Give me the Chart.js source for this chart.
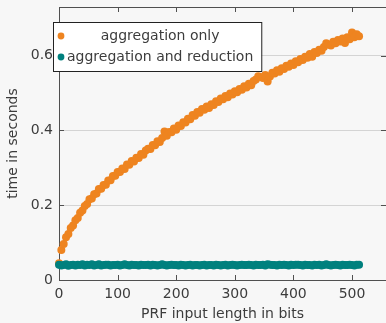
<!DOCTYPE html>
<html>
<head>
<meta charset="utf-8">
<script src="https://cdn.jsdelivr.net/npm/chart.js@4/dist/chart.umd.min.js"></script>
<style>
  html, body { margin: 0; padding: 0; background: #f7f7f7; overflow: hidden; }
  #wrap { width: 386px; height: 323px; }
</style>
</head>
<body>
<div id="wrap"><canvas id="chart"></canvas></div>
<script>
const bits = [0, 4, 8, 12, 16, 20, 24, 28, 32, 36, 40, 44, 48, 52, 56, 60, 64, 68, 72, 76,
  80, 84, 88, 92, 96, 100, 104, 108, 112, 116, 120, 124, 128, 132, 136, 140, 144, 148, 152, 156,
  160, 164, 168, 172, 176, 180, 184, 188, 192, 196, 200, 204, 208, 212, 216, 220, 224, 228, 232, 236,
  240, 244, 248, 252, 256, 260, 264, 268, 272, 276, 280, 284, 288, 292, 296, 300, 304, 308, 312, 316,
  320, 324, 328, 332, 336, 340, 344, 348, 352, 356, 360, 364, 368, 372, 376, 380, 384, 388, 392, 396,
  400, 404, 408, 412, 416, 420, 424, 428, 432, 436, 440, 444, 448, 452, 456, 460, 464, 468, 472, 476,
  480, 484, 488, 492, 496, 500, 504, 508, 512]

const aggregationOnly = [0.045, 0.080, 0.096, 0.114, 0.123, 0.139, 0.146, 0.160, 0.166, 0.180,
  0.186, 0.198, 0.203, 0.216, 0.218, 0.229, 0.231, 0.243, 0.244, 0.254,
  0.255, 0.266, 0.267, 0.278, 0.279, 0.289, 0.289, 0.298, 0.297, 0.309,
  0.308, 0.318, 0.317, 0.327, 0.326, 0.337, 0.335, 0.346, 0.351, 0.350,
  0.361, 0.360, 0.371, 0.369, 0.380, 0.397, 0.386, 0.396, 0.395, 0.405,
  0.402, 0.413, 0.412, 0.422, 0.421, 0.431, 0.430, 0.441, 0.439, 0.449,
  0.447, 0.457, 0.455, 0.464, 0.460, 0.470, 0.468, 0.478, 0.476, 0.485,
  0.483, 0.492, 0.489, 0.499, 0.496, 0.505, 0.502, 0.511, 0.509, 0.518,
  0.515, 0.525, 0.521, 0.532, 0.536, 0.545, 0.543, 0.540, 0.548, 0.531,
  0.544, 0.554, 0.552, 0.561, 0.557, 0.566, 0.564, 0.573, 0.570, 0.579,
  0.575, 0.585, 0.582, 0.591, 0.588, 0.597, 0.594, 0.604, 0.597, 0.610,
  0.607, 0.616, 0.613, 0.623, 0.633, 0.630, 0.627, 0.637, 0.633, 0.642,
  0.638, 0.646, 0.634, 0.649, 0.644, 0.662, 0.649, 0.657, 0.652]

const aggregationReduction = [0.041, 0.039, 0.040, 0.042, 0.038, 0.040, 0.041, 0.039, 0.041, 0.040,
  0.042, 0.039, 0.041, 0.040, 0.042, 0.039, 0.040, 0.042, 0.039, 0.040,
  0.041, 0.041, 0.039, 0.040, 0.040, 0.041, 0.039, 0.040, 0.042, 0.040,
  0.039, 0.041, 0.040, 0.040, 0.039, 0.041, 0.040, 0.040, 0.041, 0.039,
  0.041, 0.040, 0.039, 0.040, 0.042, 0.040, 0.039, 0.040, 0.041, 0.040,
  0.040, 0.039, 0.041, 0.040, 0.039, 0.040, 0.041, 0.039, 0.040, 0.040,
  0.039, 0.040, 0.041, 0.039, 0.040, 0.040, 0.039, 0.041, 0.040, 0.039,
  0.040, 0.041, 0.039, 0.040, 0.041, 0.040, 0.039, 0.040, 0.041, 0.040,
  0.040, 0.041, 0.040, 0.039, 0.041, 0.040, 0.040, 0.041, 0.039, 0.042,
  0.041, 0.040, 0.040, 0.039, 0.041, 0.040, 0.041, 0.040, 0.039, 0.041,
  0.040, 0.041, 0.041, 0.040, 0.039, 0.041, 0.040, 0.040, 0.039, 0.041,
  0.040, 0.041, 0.039, 0.040, 0.042, 0.040, 0.039, 0.040, 0.041, 0.040,
  0.039, 0.041, 0.040, 0.040, 0.041, 0.040, 0.039, 0.041, 0.041]

const xTicks = [0, 100, 200, 300, 400, 500]
const yTicks = [0, 0.2, 0.4, 0.6]
const seriesNames = ['aggregation only', 'aggregation and reduction']
const seriesColors = ['#ee8420', '#00807e']

const FONT = 'DejaVu Sans'
const AXIS = '#505050'
const TEXT = '#3c3c3c'

// pgfplots-ish frame: top line + inward ticks on all sides
const framePlugin = {
  id: 'frame',
  afterDatasetsDraw(chart) {
    const { ctx, chartArea: a, scales } = chart
    ctx.save()
    ctx.strokeStyle = AXIS
    ctx.lineWidth = 1
    ctx.beginPath()
    ctx.moveTo(a.left, a.top + 0.5)
    ctx.lineTo(a.right, a.top + 0.5)
    xTicks.forEach(v => {
      const px = Math.round(scales.x.getPixelForValue(v)) + 0.5
      ctx.moveTo(px, a.bottom)
      ctx.lineTo(px, a.bottom - 5)
      ctx.moveTo(px, a.top)
      ctx.lineTo(px, a.top + 5)
    })
    yTicks.forEach(v => {
      const py = Math.round(scales.y.getPixelForValue(v)) + 0.5
      ctx.moveTo(a.left, py)
      ctx.lineTo(a.left + 5, py)
      ctx.moveTo(a.right, py)
      ctx.lineTo(a.right - 5, py)
    })
    ctx.stroke()
    ctx.restore()
  }
}

const legendPlugin = {
  id: 'boxLegend',
  afterDraw(chart) {
    const { ctx, chartArea: a } = chart
    ctx.save()
    ctx.font = '14px "' + FONT + '"'
    const maxW = Math.max(...seriesNames.map(s => ctx.measureText(s).width))
    const left = a.left - 6
    const top = a.top + 15
    const rowH = 21
    const textLeft = left + 14
    const w = 14 + maxW + 8
    const h = rowH * seriesNames.length + 7
    ctx.fillStyle = '#ffffff'
    ctx.fillRect(left, top, w, h)
    ctx.strokeStyle = '#222'
    ctx.lineWidth = 1
    ctx.strokeRect(left + 0.5, top + 0.5, w, h)
    seriesNames.forEach((name, i) => {
      const cy = top + 14 + i * rowH
      ctx.fillStyle = seriesColors[i]
      ctx.beginPath()
      ctx.arc(left + 8, cy, 3.4, 0, Math.PI * 2)
      ctx.fill()
      ctx.fillStyle = TEXT
      ctx.textAlign = 'center'
      ctx.textBaseline = 'middle'
      ctx.fillText(name, textLeft + maxW / 2, cy)
    })
    ctx.restore()
  }
}

new Chart(document.getElementById('chart'), {
  type: 'scatter',
  data: {
    datasets: [
      {
        label: seriesNames[0],
        data: bits.map((b, i) => ({ x: b, y: aggregationOnly[i] })),
        backgroundColor: seriesColors[0],
        borderWidth: 0,
        pointRadius: 4,
        clip: false,
        order: 1
      },
      {
        label: seriesNames[1],
        data: bits.map((b, i) => ({ x: b, y: aggregationReduction[i] })),
        backgroundColor: seriesColors[1],
        borderWidth: 0,
        pointRadius: 4,
        clip: false,
        order: 0
      }
    ]
  },
  options: {
    animation: false,
    responsive: true,
    maintainAspectRatio: false,
    layout: { autoPadding: false, padding: { top: 7, right: 0, left: 0, bottom: 0 } },
    plugins: {
      legend: { display: false },
      tooltip: { enabled: false }
    },
    scales: {
      x: {
        type: 'linear',
        min: 0,
        max: 558,
        afterBuildTicks: s => { s.ticks = xTicks.map(v => ({ value: v })) },
        afterFit: s => { s.height = 43; s.paddingRight = 0; s.paddingLeft = 0 },
        grid: { display: false, drawTicks: false },
        border: { color: AXIS, width: 1 },
        ticks: { color: TEXT, padding: 6, font: { family: FONT, size: 14 }, maxRotation: 0 },
        title: { display: true, text: 'PRF input length in bits', color: TEXT, font: { family: FONT, size: 14 }, padding: { top: 0, bottom: 0 } }
      },
      y: {
        min: 0,
        max: 0.73,
        afterBuildTicks: s => { s.ticks = yTicks.map(v => ({ value: v })) },
        afterFit: s => { s.width = 59; s.paddingTop = 0; s.paddingBottom = 0 },
        grid: { color: ctx => ctx.tick && ctx.tick.value === 0 ? 'rgba(0,0,0,0)' : '#d4d4d4', drawTicks: false },
        border: { color: AXIS, width: 1 },
        ticks: { color: TEXT, padding: 6, font: { family: FONT, size: 14 }, callback: v => String(v) },
        title: { display: true, text: 'time in seconds', color: TEXT, font: { family: FONT, size: 14 }, padding: { top: 5, bottom: 0 } }
      }
    }
  },
  plugins: [framePlugin, legendPlugin]
})
</script>
</body>
</html>
